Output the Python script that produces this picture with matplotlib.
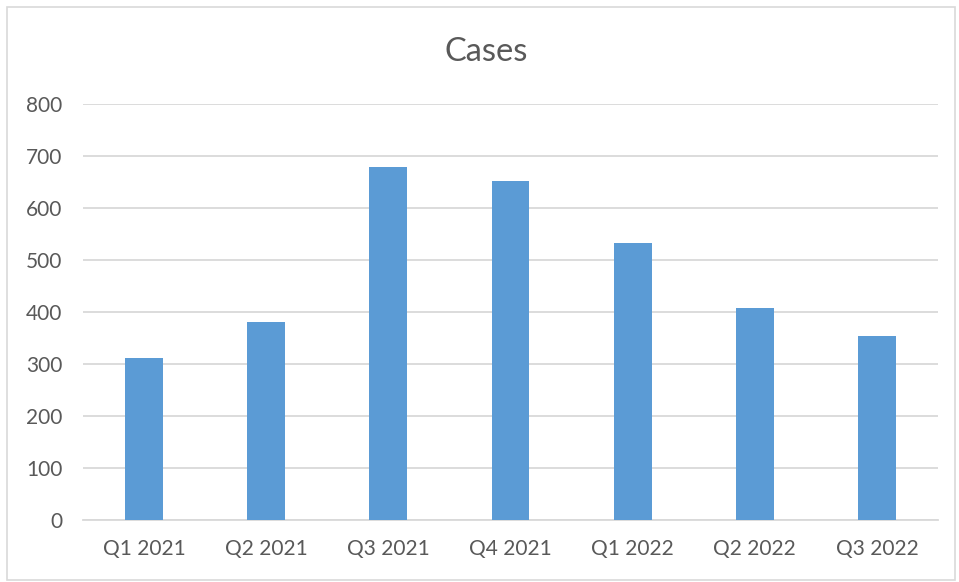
import matplotlib.pyplot as plt
import numpy as np
from matplotlib.patches import Rectangle

# chart data
quarters = ["Q1 2021", "Q2 2021", "Q3 2021", "Q4 2021", "Q1 2022", "Q2 2022", "Q3 2022"]
cases = [310, 380, 679, 651, 532, 407, 353]
y_ticks = [0, 100, 200, 300, 400, 500, 600, 700, 800]

text_col = "#595959"
grid_col = "#d9d9d9"
bar_col = "#5b9bd5"

plt.rcParams["font.family"] = ["Lato", "DejaVu Sans"]

fig = plt.figure(figsize=(9.59, 5.82), dpi=100)
ax = fig.add_axes([83 / 959, 1 - 519.5 / 582, 855 / 959, (519.5 - 104) / 582])

x = np.arange(len(quarters))
ax.bar(x, cases, width=0.31, color=bar_col, zorder=3)

ax.set_xlim(-0.5, len(quarters) - 0.5)
ax.set_ylim(0, 800)
ax.set_yticks(y_ticks)
ax.set_xticks(x)
ax.set_xticklabels(quarters)
ax.tick_params(axis="both", length=0, colors=text_col, labelsize=15)
ax.tick_params(axis="x", pad=14)
ax.tick_params(axis="y", pad=15)
ax.grid(axis="y", color=grid_col, linewidth=1.3, zorder=0)

for side in ["top", "right", "left"]:
    ax.spines[side].set_visible(False)
ax.spines["bottom"].set_color(grid_col)
ax.spines["bottom"].set_linewidth(1.3)

fig.text(486.5 / 959, 1 - 52 / 582, "Cases", ha="center", va="center", fontsize=23.5, color=text_col)

# thin border around the whole chart
fig.patches.append(Rectangle((7 / 959, 2 / 582), 948 / 959, 573 / 582, transform=fig.transFigure,
                             fill=False, edgecolor=grid_col, linewidth=1.2))

fig.savefig("out.png", dpi=100)
